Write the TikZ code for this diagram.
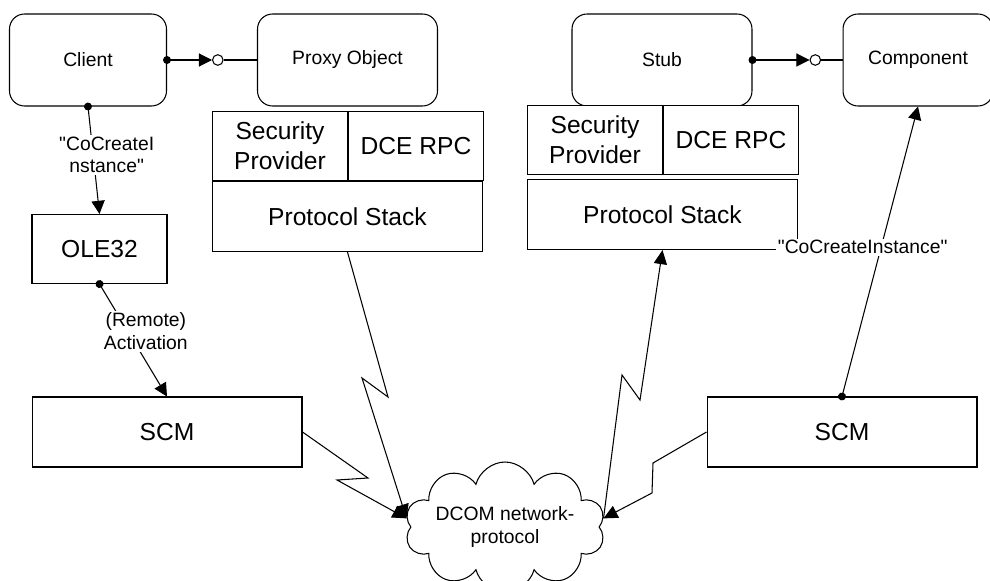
\documentclass[tikz,border=0pt]{standalone}
\usepackage{fontspec}
\setmainfont{Liberation Sans}
\usetikzlibrary{arrows.meta,positioning,shapes.symbols}

\begin{document}
\begin{tikzpicture}[
    x=0.02cm, y=-0.02cm,
    line width=0.6pt,
    node distance=1.8cm,
    obj/.style={draw, rounded corners=0.3cm, minimum width=3.6cm, minimum height=1.84cm, font=\fontsize{11}{13}\selectfont},
    cell/.style={draw, fill=white, minimum width=2.7cm, minimum height=1.38cm, inner sep=1pt, align=center, font=\fontsize{14}{17}\selectfont},
    stack/.style={cell, minimum width=5.4cm, minimum height=1.4cm},
    lbl/.style={fill=white, inner sep=1pt, align=center, font=\fontsize{11}{13}\selectfont},
    flow/.style={{Circle[length=4.5pt]}-{Triangle[length=7.5pt, width=7.5pt]}, shorten <=-2.25pt},
    wire/.style={-{Triangle[length=8pt, width=7.5pt]}},
    plug/.style={circle, draw, fill=white, inner sep=0pt, minimum size=6pt}
]
\path[use as bounding box, fill=white] (0,0) rectangle (990,581);

\node[obj, minimum width=3.14cm] (client) at (88,60) {Client};
\node[obj, right=of client] (proxy) {Proxy Object};
\node[obj] (stub) at (662,60) {Stub};
\node[obj, minimum width=3cm, right=of stub] (comp) {Component};

% client side stack
\node[cell, anchor=north west] (lsec) at (212,111) {Security\\Provider};
\node[cell, right=0pt of lsec] (ldce) {DCE RPC};
\node[stack, anchor=north west] (lps) at (lsec.south west) {Protocol Stack};

% server side stack
\node[cell, anchor=north west] (rsec) at (527,105) {Security\\Provider};
\node[cell, right=0pt of rsec] (rdce) {DCE RPC};
\node[stack, anchor=north west, yshift=-0.08cm] (rps) at (rsec.south west) {Protocol Stack};

\node[cell] (ole) at (99.5,249) {OLE32};
\node[stack] (lscm) at (167,432) {SCM};
\node[stack] (rscm) at (842,432) {SCM};

\node[cloud, draw, cloud puffs=10, cloud ignores aspect, minimum width=4cm, minimum height=2.6cm, inner sep=0pt, align=center, font=\fontsize{11}{13.5}\selectfont] (net) at (505,527) {DCOM network-\\protocol};

% interfaces
\node[plug, right=0.9cm of client] (cplug) {};
\draw[flow] (client) -- (cplug);
\draw (cplug) -- (proxy);
\node[plug, right=1.14cm of stub] (splug) {};
\draw[flow] (stub) -- (splug);
\draw (splug) -- (comp);

\draw[flow] (client.south) -- node[lbl, pos=0.45, xshift=0.27cm] {\textquotedbl CoCreateI\\nstance\textquotedbl} (ole.north);
\draw[flow] (ole.south) -- node[lbl, pos=0.42, xshift=0.36cm] {(Remote)\\Activation} (lscm.north);
\draw[flow] (rscm.north) -- node[lbl, pos=0.515, xshift=-0.37cm] {\textquotedbl CoCreateInstance\textquotedbl} (comp.south);

% network links
\draw[wire] (lps.south) -- (388,397) -- (362,378) -- (net.175);
\draw[wire] (lscm.east) -- (368,478) -- (337,480) -- (net.175);
\draw[wire] (net.5) -- (622,375) -- (640,400) -- (658,280) -- (rps.south);
\draw[wire] (rscm.west) -- (653,463) -- (652,493) -- (net.5);

\end{tikzpicture}
\end{document}
